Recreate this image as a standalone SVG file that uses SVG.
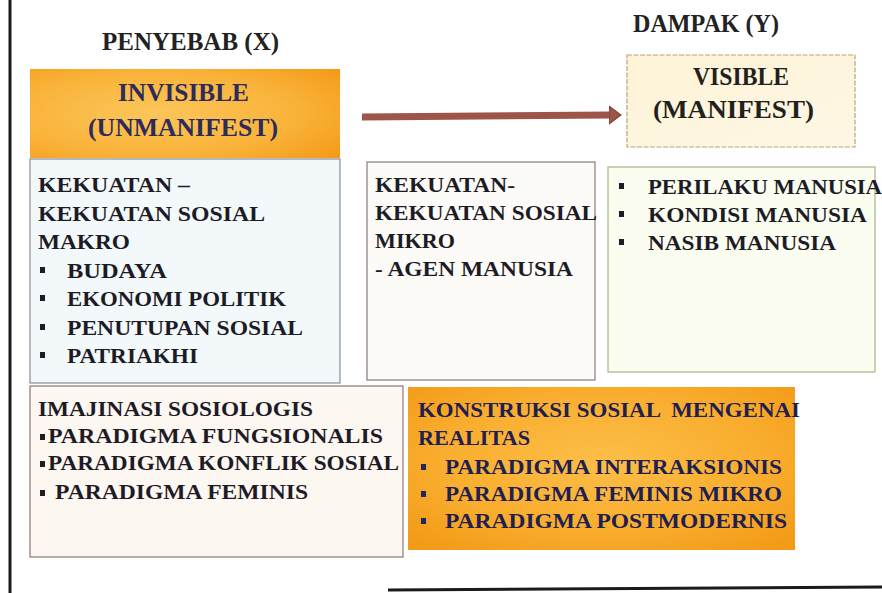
<svg xmlns="http://www.w3.org/2000/svg" width="882" height="593" viewBox="0 0 882 593">
<defs>
<style>
text{font-family:"Liberation Serif","Times New Roman",serif;font-weight:bold;fill:#1d1c26}
.h{font-size:25px;fill:#222}
.t{font-size:20px}
.ti{font-size:25px;fill:#2c2b5a}
.k{fill:#1f2050}
.b{fill:#1d1c26}
.bn{fill:#23265a}
</style>
<radialGradient id="og1" cx="0.4" cy="0.5" r="0.75">
<stop offset="0" stop-color="#fcc65a"/>
<stop offset="0.6" stop-color="#f9b33a"/>
<stop offset="1" stop-color="#f49c1a"/>
</radialGradient>
<radialGradient id="og2" cx="0.5" cy="0.45" r="0.7">
<stop offset="0" stop-color="#fcbe48"/>
<stop offset="0.6" stop-color="#f9ad2e"/>
<stop offset="1" stop-color="#f39a16"/>
</radialGradient>
<linearGradient id="cream" x1="0" y1="0" x2="1" y2="1">
<stop offset="0" stop-color="#fdf3d6"/>
<stop offset="1" stop-color="#fdf7e4"/>
</linearGradient>
<marker id="ah" markerUnits="userSpaceOnUse" markerWidth="14" markerHeight="20" refX="2" refY="10" orient="auto">
<path d="M0,1 L12,10 L0,19 Z" fill="#9c5548" stroke="#7a3c34" stroke-width="1"/>
</marker>
</defs>
<rect width="882" height="593" fill="#ffffff"/>
<line x1="10" y1="0" x2="10" y2="593" stroke="#1a1a1a" stroke-width="3"/>
<line x1="388" y1="590" x2="882" y2="587" stroke="#1a1a1a" stroke-width="3"/>

<text class="h" x="102" y="50" textLength="177" lengthAdjust="spacingAndGlyphs">PENYEBAB (X)</text>
<text class="h" x="633" y="32" textLength="146" lengthAdjust="spacingAndGlyphs">DAMPAK (Y)</text>

<g id="invisible">
<rect x="30" y="69" width="310" height="89" fill="url(#og1)"/>
<text class="ti" x="118" y="101" textLength="131" lengthAdjust="spacingAndGlyphs">INVISIBLE</text>
<text class="ti" x="88" y="136" textLength="190" lengthAdjust="spacingAndGlyphs">(UNMANIFEST)</text>
</g>

<g id="visible">
<rect x="627" y="55" width="228" height="92" fill="url(#cream)" stroke="#b9a57a" stroke-width="1.2" stroke-dasharray="5 1.5"/>
<text class="ti" style="fill:#231f1c" x="693" y="85" textLength="96" lengthAdjust="spacingAndGlyphs">VISIBLE</text>
<text class="ti" style="fill:#231f1c" x="653" y="118" textLength="161" lengthAdjust="spacingAndGlyphs">(MANIFEST)</text>
</g>

<g id="connectors">
<line x1="362" y1="117" x2="611" y2="115" stroke="#9c5548" stroke-width="7" marker-end="url(#ah)"/>
</g>

<g id="makro">
<rect x="30" y="159" width="310" height="224" fill="#f3f8fb" stroke="#8c8c98" stroke-width="1.2"/>
<text class="t" x="38" y="192" textLength="152" lengthAdjust="spacingAndGlyphs">KEKUATAN –</text>
<text class="t" x="38" y="221" textLength="227" lengthAdjust="spacingAndGlyphs">KEKUATAN SOSIAL</text>
<text class="t" x="38" y="249" textLength="92" lengthAdjust="spacingAndGlyphs">MAKRO</text>
<rect class="b" x="40" y="267" width="5" height="6"/>
<text class="t" x="67" y="278" textLength="100" lengthAdjust="spacingAndGlyphs">BUDAYA</text>
<rect class="b" x="40" y="295" width="5" height="6"/>
<text class="t" x="67" y="306" textLength="219" lengthAdjust="spacingAndGlyphs">EKONOMI POLITIK</text>
<rect class="b" x="40" y="324" width="5" height="6"/>
<text class="t" x="67" y="335" textLength="236" lengthAdjust="spacingAndGlyphs">PENUTUPAN SOSIAL</text>
<rect class="b" x="40" y="352" width="5" height="6"/>
<text class="t" x="67" y="363" textLength="131" lengthAdjust="spacingAndGlyphs">PATRIAKHI</text>
</g>

<g id="mikro">
<rect x="367" y="162" width="228" height="218" fill="#fdfbf8" stroke="#8c7b78" stroke-width="1.2"/>
<text class="t" x="375" y="192" textLength="140" lengthAdjust="spacingAndGlyphs">KEKUATAN-</text>
<text class="t" x="375" y="220" textLength="222" lengthAdjust="spacingAndGlyphs">KEKUATAN SOSIAL</text>
<text class="t" x="375" y="248" textLength="80" lengthAdjust="spacingAndGlyphs">MIKRO</text>
<text class="t" x="375" y="276" textLength="198" lengthAdjust="spacingAndGlyphs">- AGEN MANUSIA</text>
</g>

<g id="dampak">
<rect x="608" y="167" width="267" height="205" fill="#fbfdf1" stroke="#a9b286" stroke-width="1.2"/>
<rect class="b" x="619" y="183" width="5" height="6"/>
<text class="t" x="648" y="194" textLength="234" lengthAdjust="spacingAndGlyphs">PERILAKU MANUSIA</text>
<rect class="b" x="619" y="211" width="5" height="6"/>
<text class="t" x="648" y="222" textLength="219" lengthAdjust="spacingAndGlyphs">KONDISI MANUSIA</text>
<rect class="b" x="619" y="239" width="5" height="6"/>
<text class="t" x="648" y="250" textLength="188" lengthAdjust="spacingAndGlyphs">NASIB MANUSIA</text>
</g>

<g id="imajinasi">
<rect x="30" y="386" width="373" height="171" fill="#fdf7f2" stroke="#8c7772" stroke-width="1.2"/>
<text class="t" x="38" y="416" textLength="275" lengthAdjust="spacingAndGlyphs">IMAJINASI SOSIOLOGIS</text>
<rect class="b" x="40" y="434" width="5" height="6"/>
<text class="t" x="48" y="443" textLength="335" lengthAdjust="spacingAndGlyphs">PARADIGMA FUNGSIONALIS</text>
<rect class="b" x="40" y="461" width="5" height="6"/>
<text class="t" x="48" y="470" textLength="351" lengthAdjust="spacingAndGlyphs">PARADIGMA KONFLIK SOSIAL</text>
<rect class="b" x="40" y="490" width="5" height="6"/>
<text class="t" x="55" y="499" textLength="253" lengthAdjust="spacingAndGlyphs">PARADIGMA FEMINIS</text>
</g>

<g id="konstruksi">
<rect x="408" y="387" width="387" height="163" fill="url(#og2)"/>
<text class="t k" x="418" y="417" textLength="382" lengthAdjust="spacingAndGlyphs" xml:space="preserve">KONSTRUKSI SOSIAL  MENGENAI</text>
<text class="t k" x="418" y="445" textLength="112" lengthAdjust="spacingAndGlyphs">REALITAS</text>
<rect class="bn" x="421" y="464" width="5" height="6"/>
<text class="t k" x="445" y="474" textLength="337" lengthAdjust="spacingAndGlyphs">PARADIGMA INTERAKSIONIS</text>
<rect class="bn" x="421" y="491" width="5" height="6"/>
<text class="t k" x="445" y="501" textLength="337" lengthAdjust="spacingAndGlyphs">PARADIGMA FEMINIS MIKRO</text>
<rect class="bn" x="421" y="518" width="5" height="6"/>
<text class="t k" x="445" y="528" textLength="342" lengthAdjust="spacingAndGlyphs">PARADIGMA POSTMODERNIS</text>
</g>
</svg>
